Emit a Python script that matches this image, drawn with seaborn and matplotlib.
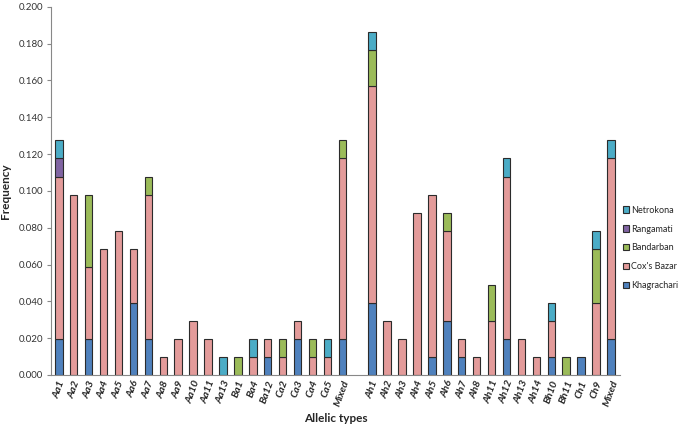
import matplotlib
matplotlib.use("Agg")
import matplotlib.pyplot as plt
import matplotlib.ticker as ticker
import pandas as pd
import seaborn as sns

# allelic types, blank slot separates the two groups
CATEGORIES = [
    "Aa1", "Aa2", "Aa3", "Aa4", "Aa5", "Aa6", "Aa7", "Aa8", "Aa9", "Aa10",
    "Aa11", "Aa13", "Ba1", "Ba4", "Ba12", "Ca2", "Ca3", "Ca4", "Ca5", "Mixed",
    "",
    "Ah1", "Ah2", "Ah3", "Ah4", "Ah5", "Ah6", "Ah7", "Ah8", "Ah11", "Ah12",
    "Ah13", "Ah14", "Bh10", "Bh11", "Ch1", "Ch9", "Mixed",
]

KHAGRACHARI = [
    0.0196, 0, 0.0196, 0, 0, 0.0392, 0.0196, 0, 0, 0,
    0, 0, 0, 0, 0.0098, 0, 0.0196, 0, 0, 0.0196,
    0,
    0.0392, 0, 0, 0, 0.0098, 0.0294, 0.0098, 0, 0, 0.0196,
    0, 0, 0.0098, 0, 0.0098, 0, 0.0196,
]
COXS_BAZAR = [
    0.0882, 0.0980, 0.0392, 0.0686, 0.0784, 0.0294, 0.0784, 0.0098, 0.0196, 0.0294,
    0.0196, 0, 0, 0.0098, 0.0098, 0.0098, 0.0098, 0.0098, 0.0098, 0.0980,
    0,
    0.1176, 0.0294, 0.0196, 0.0882, 0.0882, 0.0490, 0.0098, 0.0098, 0.0294, 0.0882,
    0.0196, 0.0098, 0.0196, 0, 0, 0.0392, 0.0980,
]
BANDARBAN = [
    0, 0, 0.0392, 0, 0, 0, 0.0098, 0, 0, 0,
    0, 0, 0.0098, 0, 0, 0.0098, 0, 0.0098, 0, 0.0098,
    0,
    0.0196, 0, 0, 0, 0, 0.0098, 0, 0, 0.0196, 0,
    0, 0, 0, 0.0098, 0, 0.0294, 0,
]
RANGAMATI = [
    0.0098, 0, 0, 0, 0, 0, 0, 0, 0, 0,
    0, 0, 0, 0, 0, 0, 0, 0, 0, 0,
    0,
    0, 0, 0, 0, 0, 0, 0, 0, 0, 0,
    0, 0, 0, 0, 0, 0, 0,
]
NETROKONA = [
    0.0098, 0, 0, 0, 0, 0, 0, 0, 0, 0,
    0, 0.0098, 0, 0.0098, 0, 0, 0, 0, 0.0098, 0,
    0,
    0.0098, 0, 0, 0, 0, 0, 0, 0, 0, 0.0098,
    0, 0, 0.0098, 0, 0, 0.0098, 0.0098,
]

REGIONS = ["Netrokona", "Rangamati", "Bandarban", "Cox's Bazar", "Khagrachari"]
COLORS = {
    "Netrokona": "#4BACC6",
    "Rangamati": "#8064A2",
    "Bandarban": "#9BBB59",
    "Cox's Bazar": "#E39B9A",
    "Khagrachari": "#4F81BD",
}

series = {
    "Netrokona": NETROKONA,
    "Rangamati": RANGAMATI,
    "Bandarban": BANDARBAN,
    "Cox's Bazar": COXS_BAZAR,
    "Khagrachari": KHAGRACHARI,
}
rows = []
for region, vals in series.items():
    for pos, v in enumerate(vals):
        if v > 0:
            rows.append({"pos": pos, "region": region, "freq": v})
df = pd.DataFrame(rows)

sns.set_style("white")
plt.rcParams["font.family"] = ["Lato", "DejaVu Sans"]

fig, ax = plt.subplots(figsize=(6.85, 4.28), dpi=100)
fig.subplots_adjust(left=0.075, right=0.905, bottom=0.124, top=0.984)

sns.histplot(
    data=df, x="pos", weights="freq", hue="region", hue_order=REGIONS,
    multiple="stack", discrete=True, shrink=0.5, palette=COLORS,
    edgecolor="#2b2b2b", linewidth=0.8, alpha=1, ax=ax,
)
# hide empty bins (gap slot)
for p in ax.patches:
    if p.get_height() == 0:
        p.set_visible(False)

ax.set_xlim(-0.5, len(CATEGORIES) - 0.4)
ax.set_ylim(0, 0.2)
ax.yaxis.set_major_locator(ticker.MultipleLocator(0.02))
ax.yaxis.set_major_formatter(ticker.FormatStrFormatter("%.3f"))
ax.set_xticks(range(len(CATEGORIES)))
ax.set_xticklabels(CATEGORIES, rotation=70, fontstyle="italic",
                   fontsize=7.5, fontweight="bold")
ax.xaxis.set_minor_locator(ticker.FixedLocator(
    [i + 0.5 for i in range(-1, len(CATEGORIES))]))
ax.tick_params(axis="x", which="major", length=0, pad=3)
ax.tick_params(axis="x", which="minor", length=3, color="#888888", direction="out")
ax.tick_params(axis="y", length=3, color="#888888", labelsize=7, direction="out",
               left=True, pad=3)
for lab in ax.get_yticklabels():
    lab.set_color("#333333")

for side in ["top", "right"]:
    ax.spines[side].set_visible(False)
for side in ["left", "bottom"]:
    ax.spines[side].set_color("#888888")
    ax.spines[side].set_linewidth(0.8)

ax.set_xlabel("Allelic types", fontsize=8.5, fontweight="bold")
ax.set_ylabel("Frequency", fontsize=8.5, fontweight="bold", labelpad=5)

sns.move_legend(ax, "center left", bbox_to_anchor=(1.0, 0.345), frameon=False,
                title=None, fontsize=6.5, handlelength=0.7, handleheight=0.7,
                handletextpad=0.25, labelspacing=1.1, borderaxespad=0.1,
                borderpad=0.2)

fig.savefig("out.png", dpi=100)
